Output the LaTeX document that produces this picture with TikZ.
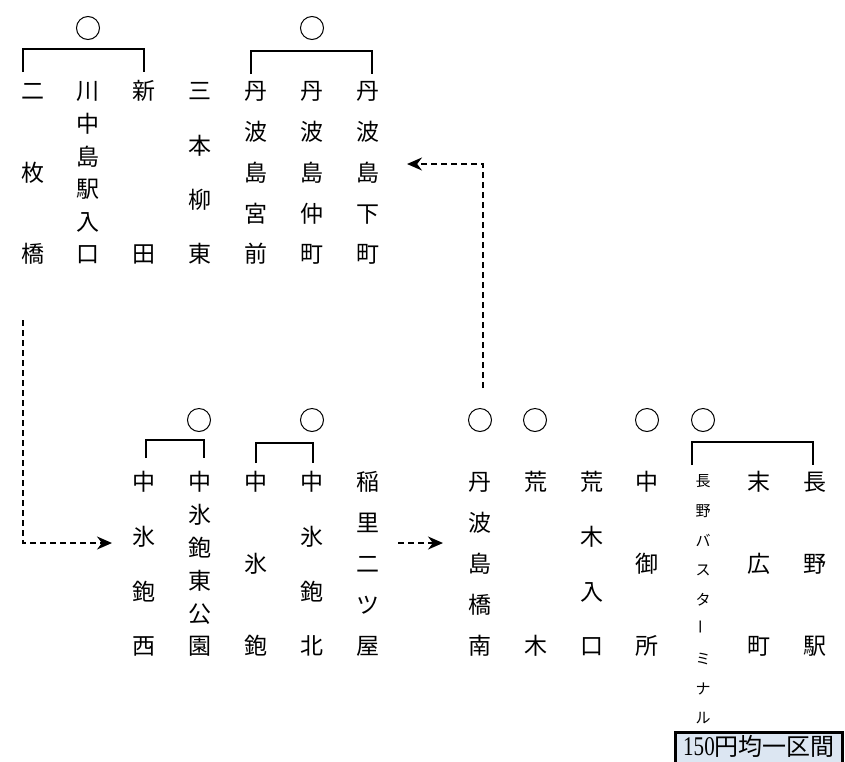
\documentclass[tikz,border=0pt]{standalone}
\usepackage{fontspec}
\setmainfont{Liberation Serif}
\newfontfamily\jp{Noto Sans CJK JP}
\usetikzlibrary{arrows.meta}
\definecolor{boxfill}{HTML}{DCE6F2}
\newcommand\vcolumn[7]{%
  \foreach \ch [count=\i] in {#7} {
    \pgfmathsetmacro\yy{#4+(\i-1)*(#5-#4)/(#6-1)}
    \node[#1] (#2-\i) at (#3,\yy) {\ch};
  }}
\begin{document}
\begin{tikzpicture}[x=1pt,y=-1pt,
  jp/.style={font=\jp\fontsize{23}{23}\selectfont, inner sep=0pt, text height=0.88em, text depth=0.12em},
  jps/.style={font=\jp\fontsize{15}{15}\selectfont, inner sep=0pt, text height=0.88em, text depth=0.12em},
  stopmark/.style={circle, draw, line width=1pt, minimum size=23pt, inner sep=0pt},
  brk/.style={line width=2pt},
  flowarrow/.style={line width=1.9pt, dash pattern=on 6pt off 4pt, -{Stealth[length=15pt,width=13pt]}}]
\useasboundingbox (0,0) rectangle (845,761);

% top row columns
\vcolumn{jp}{t1}{33}{96}{259}{3}{二,枚,橋}
\vcolumn{jp}{t2}{88}{96}{259}{6}{川,中,島,駅,入,口}
\vcolumn{jp}{t3}{144}{96}{259}{2}{新,田}
\vcolumn{jp}{t4}{200}{96}{259}{4}{三,本,柳,東}
\vcolumn{jp}{t5}{256}{96}{259}{5}{丹,波,島,宮,前}
\vcolumn{jp}{t6}{312}{96}{259}{5}{丹,波,島,仲,町}
\vcolumn{jp}{t7}{368}{96}{259}{5}{丹,波,島,下,町}

% top circles and brackets
\node[stopmark] (ot1) at (88,28) {};
\node[stopmark] (ot2) at (312,28) {};
\draw[brk] (23,72) -- (23,49) -- (144,49) -- (144,72);
\draw[brk] (251,74) -- (251,51) -- (372,51) -- (372,74);

% bottom row columns
\vcolumn{jp}{b1}{144}{487}{651}{4}{中,氷,鉋,西}
\vcolumn{jp}{b2}{200}{487}{651}{6}{中,氷,鉋,東,公,園}
\vcolumn{jp}{b3}{256}{487}{651}{3}{中,氷,鉋}
\vcolumn{jp}{b4}{312}{487}{651}{4}{中,氷,鉋,北}
\vcolumn{jp}{b5}{368}{487}{651}{5}{稲,里,二,ツ,屋}
\vcolumn{jp}{b6}{480}{487}{651}{5}{丹,波,島,橋,南}
\vcolumn{jp}{b7}{536}{487}{651}{2}{荒,木}
\vcolumn{jp}{b8}{592}{487}{651}{4}{荒,木,入,口}
\vcolumn{jp}{b9}{647}{487}{651}{3}{中,御,所}
\vcolumn{jps}{b10}{703}{483}{720}{9}{長,野,バ,ス,タ,{\rotatebox{90}{ー}},ミ,ナ,ル}
\vcolumn{jp}{b11}{759}{487}{651}{3}{末,広,町}
\vcolumn{jp}{b12}{815}{487}{651}{3}{長,野,駅}

% bottom circles and brackets
\node[stopmark] (ob1) at (199,420) {};
\node[stopmark] (ob2) at (312,420) {};
\node[stopmark] (ob3) at (480,420) {};
\node[stopmark] (ob4) at (535,420) {};
\node[stopmark] (ob5) at (647,420) {};
\node[stopmark] (ob6) at (703,420) {};
\draw[brk] (146,458) -- (146,440) -- (204,440) -- (204,458);
\draw[brk] (256,463) -- (256,443) -- (313,443) -- (313,463);
\draw[brk] (692,465) -- (692,442) -- (813,442) -- (813,465);

% flow arrows
\coordinate (a1s) at (23,320);
\coordinate (a1e) at (112,543);
\draw[flowarrow] (a1s) |- (a1e);
\coordinate (a2s) at (398,543);
\coordinate (a2e) at (443,543);
\draw[flowarrow] (a2s) -- (a2e);
\coordinate (a3s) at (483,388);
\coordinate (a3e) at (407,164);
\draw[flowarrow] (a3s) |- (a3e);

% fare box
\draw[line width=3pt, fill=boxfill] (675,732.5) rectangle (842.5,770);
\node[inner sep=0pt] (fare) at (759,746.5) {\scalebox{0.78}[1]{\fontsize{27}{27}\selectfont 150}\jp\fontsize{24}{24}\selectfont 円均一区間};
\end{tikzpicture}
\end{document}
